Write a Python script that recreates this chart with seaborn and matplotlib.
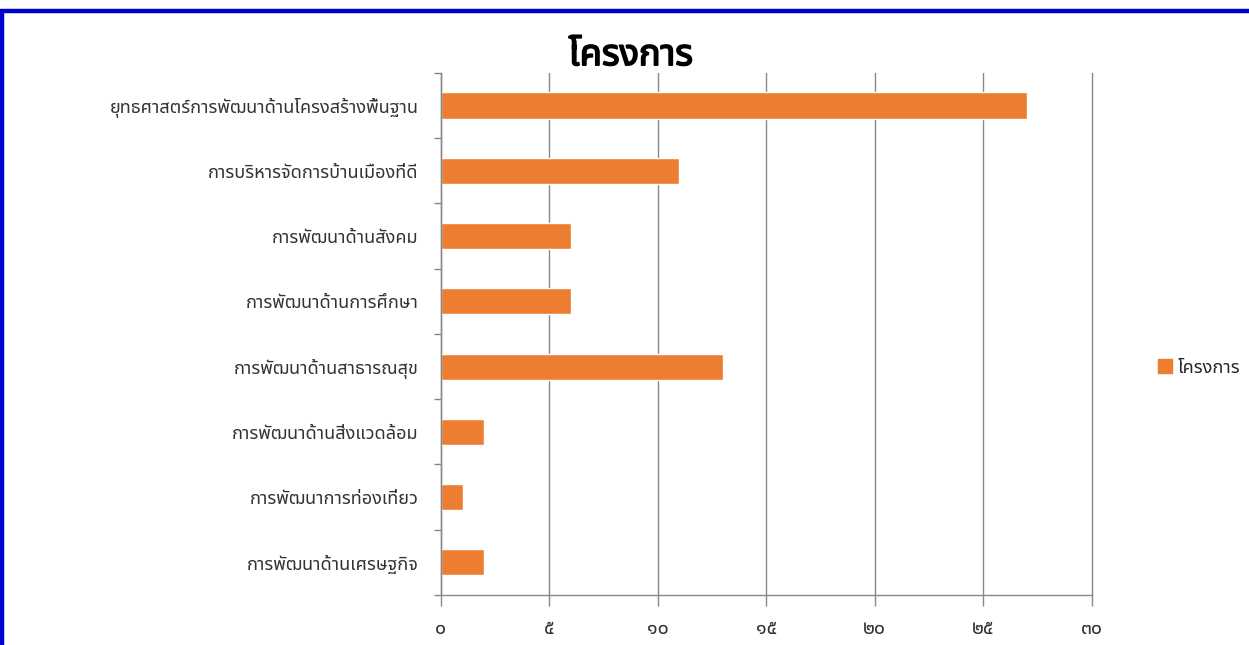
import matplotlib
matplotlib.use("Agg")
import matplotlib.pyplot as plt
import matplotlib.patches as patches
import matplotlib.patheffects as pe
from matplotlib import font_manager
from matplotlib.ft2font import FT2Font
import seaborn as sns
import numpy as np

# data
categories = ["ยุทธศาสตร์การพัฒนาด้านโครงสร้างพื้นฐาน",
              "การบริหารจัดการบ้านเมืองที่ดี",
              "การพัฒนาด้านสังคม",
              "การพัฒนาด้านการศึกษา",
              "การพัฒนาด้านสาธารณสุข",
              "การพัฒนาด้านสิ่งแวดล้อม",
              "การพัฒนาการท่องเที่ยว",
              "การพัฒนาด้านเศรษฐกิจ"]
projects = [27, 11, 6, 6, 13, 2, 1, 2]
x_ticks = [0, 5, 10, 15, 20, 25, 30]
series_name = "โครงการ"
title = "โครงการ"

thai_digits = str.maketrans("0123456789", "๐๑๒๓๔๕๖๗๘๙")


# find something that can draw Thai
def thai_font():
    preferred = ["Noto Sans Thai", "Noto Sans Thai UI", "Leelawadee UI", "Tahoma",
                 "Garuda", "Loma", "Sarabun", "Tlwg Typo"]
    names = {f.name for f in font_manager.fontManager.ttflist}
    for n in preferred:
        if n in names:
            return n
    for f in font_manager.fontManager.ttflist:
        try:
            if 0x0E01 in FT2Font(f.fname).get_charmap():
                return f.name
        except Exception:
            pass
    return "DejaVu Sans"


sns.set_theme(style="white")
font = thai_font()
plt.rcParams["font.family"] = [font, "DejaVu Sans"]

fig = plt.figure(figsize=(12.49, 6.45), dpi=100)
ax = fig.add_axes([0.353, 0.0775, 0.521, 0.8095])

sns.barplot(x=projects, y=categories, color="#ED7D31", saturation=1,
            width=0.4, orient="h", ax=ax)

ax.set_xlim(0, 30)
ax.set_ylim(7.5, -0.5)
ax.set_xticks(x_ticks)
ax.set_xticklabels([str(t).translate(thai_digits) for t in x_ticks], fontsize=14, color="#333333")
ax.tick_params(axis="x", length=8, width=1, color="#888888", pad=9, direction="out", bottom=True)
ax.tick_params(axis="y", length=0, pad=16, labelsize=13, labelcolor="#333333")
ax.set_yticks(np.arange(-0.5, 8, 1), minor=True)
ax.tick_params(axis="y", which="minor", length=5, width=1, color="#888888", left=True)
ax.grid(axis="x", color="#888888", linewidth=1)
for gl in ax.get_xgridlines():
    gl.set_clip_on(False)
ax.set_axisbelow(True)
ax.set_xlabel("")
ax.set_ylabel("")
for s in ["top", "right"]:
    ax.spines[s].set_visible(False)
for s in ["left", "bottom"]:
    ax.spines[s].set_color("#888888")
    ax.spines[s].set_linewidth(1)

fig.text(0.505, 0.913, title, ha="center", va="center", fontsize=26, fontweight="bold", color="black",
         path_effects=[pe.withStroke(linewidth=1.2, foreground="black")])

handle = patches.Patch(color="#ED7D31", label=series_name)
fig.legend(handles=[handle], loc="center left", bbox_to_anchor=(0.914, 0.43), frameon=False,
           fontsize=13, handlelength=0.8, handleheight=0.8, handletextpad=0.3)

# blue frame round the slide
frame = patches.Rectangle((0.002, -0.2), 1.3, 1.2 - 0.0163, transform=fig.transFigure,
                          fill=False, edgecolor="#0000CC", linewidth=3.2, clip_on=False)
fig.patches.append(frame)

fig.savefig("out.png", dpi=100)
